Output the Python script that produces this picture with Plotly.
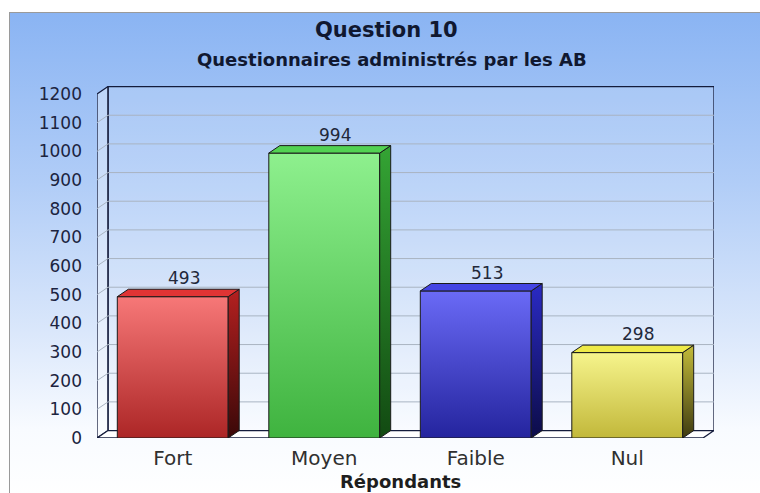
import base64
import plotly.graph_objects as go

# ---- data -------------------------------------------------------------
categories = ["Fort", "Moyen", "Faible", "Nul"]
values = [493, 994, 513, 298]
y_ticks = list(range(0, 1201, 100))

title_text = "Question 10"
subtitle_text = "Questionnaires administrés par les AB"
x_title_text = "Répondants"

# ---- bar colours (front gradient, side gradient, top face) -------------
front_top = ["#f77878", "#8ef08e", "#6a6af6", "#f6f48c"]
front_bottom = ["#ac2626", "#3fb33f", "#24249e", "#c2b83a"]
side_top = ["#b42020", "#34a434", "#2a2ac4", "#c4bc3a"]
side_bottom = ["#3a0808", "#124a12", "#0c0c48", "#3e3a10"]
top_face = ["#e03434", "#52d252", "#4444e4", "#eeea48"]

FONT = "DejaVu Sans"
EDGE = "#141c3c"
GRID = "#a9b4c2"

# ---- canvas and plot box (pixels) ---------------------------------------
W, H = 760, 493
PL, PR, PT, PB = 97, 714, 86, 438

DX = 0.0726   # depth of the 3-D box along x (category units)
DY = 26       # depth of the 3-D box along y (value units)
Y_MAX = 1228
HALF = 0.366  # half width of a bar (category units)
X0, X1 = -0.5, len(categories) - 0.5
TOP = y_ticks[-1]

fig = go.Figure()


def poly(xs, ys, **kw):
    fig.add_trace(go.Scatter(
        x=xs + xs[:1], y=ys + ys[:1], mode="lines", fill="toself",
        hoverinfo="skip", cliponaxis=False, **kw))


# walls and floor of the box
poly([X0 + DX, X1 + DX, X1 + DX, X0 + DX], [DY, DY, TOP + DY, TOP + DY],
     fillcolor="rgba(255,255,255,0.14)", line=dict(color=EDGE, width=1.3))
poly([X0, X0 + DX, X0 + DX, X0], [0, DY, TOP + DY, TOP],
     fillcolor="rgba(255,255,255,0.35)", line=dict(color=EDGE, width=1.3))

# grid lines: along the back wall and diagonally across the left wall
gx, gy = [], []
for v in y_ticks[1:-1]:
    gx += [X0, X0 + DX, X1 + DX, None]
    gy += [v, v + DY, v + DY, None]
fig.add_trace(go.Scatter(x=gx, y=gy, mode="lines", hoverinfo="skip",
                         line=dict(color=GRID, width=1), cliponaxis=False))

poly([X0, X1, X1 + DX, X0 + DX], [0, 0, DY, DY],
     fillcolor="#ffffff", line=dict(color=EDGE, width=1.3))

# 3-D bars: front face, side face, top face
for i, v in enumerate(values):
    xl, xr = i - HALF, i + HALF
    poly([xl, xr, xr, xl], [0, 0, v, v],
         line=dict(color="#1a1a1a", width=1),
         fillgradient=dict(type="vertical",
                           colorscale=[[0, front_bottom[i]], [1, front_top[i]]]))
    poly([xr, xr + DX, xr + DX, xr], [0, DY, v + DY, v],
         line=dict(color="#1a1a1a", width=1),
         fillgradient=dict(type="vertical",
                           colorscale=[[0, side_bottom[i]], [1, side_top[i]]]))
    poly([xl, xr, xr + DX, xl + DX], [v, v, v + DY, v + DY],
         fillcolor=top_face[i], line=dict(color="#1a1a1a", width=1))

# value labels above each bar
annotations = []
for i, v in enumerate(values):
    annotations.append(dict(
        x=i + DX, y=v + DY, xref="x", yref="y", text=str(v), showarrow=False,
        yanchor="middle", yshift=11, font=dict(family=FONT, size=17, color="#22283a")))

annotations += [
    dict(x=386 / W, y=1 - 30 / H, xref="paper", yref="paper", showarrow=False,
         text=f"<b>{title_text}</b>", yanchor="middle",
         font=dict(family=FONT, size=21, color="#101830")),
    dict(x=392 / W, y=1 - 60 / H, xref="paper", yref="paper", showarrow=False,
         text=f"<b>{subtitle_text}</b>", yanchor="middle",
         font=dict(family=FONT, size=18, color="#101830")),
    dict(x=(len(categories) - 1) / 2, y=1 - 481 / H, xref="x", yref="paper",
         showarrow=False, text=f"<b>{x_title_text}</b>", yanchor="middle",
         font=dict(family=FONT, size=18, color="#1e1e1e")),
]

# soft blue-to-white panel behind the chart
svg = (
    '<svg xmlns="http://www.w3.org/2000/svg" width="760" height="493" '
    'viewBox="0 0 760 493" preserveAspectRatio="none">'
    '<defs><linearGradient id="g" x1="0" y1="0" x2="0" y2="1">'
    '<stop offset="0" stop-color="#8ab4f3"/>'
    '<stop offset="0.35" stop-color="#b1cdf7"/>'
    '<stop offset="0.65" stop-color="#dae7fb"/>'
    '<stop offset="0.85" stop-color="#f8fbff"/>'
    '<stop offset="1" stop-color="#ffffff"/>'
    '</linearGradient></defs>'
    '<rect x="9.5" y="12.5" width="760" height="490" fill="url(#g)" '
    'stroke="#9a9a9a" stroke-width="1"/></svg>'
)
bg_src = "data:image/svg+xml;base64," + base64.b64encode(svg.encode()).decode()

fig.update_layout(
    width=W, height=H,
    margin=dict(l=0, r=0, t=0, b=0),
    paper_bgcolor="#ffffff",
    plot_bgcolor="rgba(0,0,0,0)",
    showlegend=False,
    annotations=annotations,
    images=[dict(source=bg_src, xref="paper", yref="paper", x=0, y=1,
                 sizex=1, sizey=1, xanchor="left", yanchor="top",
                 sizing="stretch", layer="below")],
    xaxis=dict(domain=[PL / W, PR / W], range=[X0, X1 + DX],
               tickvals=list(range(len(categories))), ticktext=categories,
               showgrid=False, zeroline=False, showline=False, ticks="",
               automargin=False, ticklabelstandoff=6, fixedrange=True,
               tickfont=dict(family=FONT, size=20, color="#303030")),
    yaxis=dict(domain=[1 - PB / H, 1 - PT / H], range=[0, Y_MAX],
               tickvals=y_ticks, showgrid=False, zeroline=False,
               showline=False, ticks="", automargin=False,
               ticklabelstandoff=14, fixedrange=True,
               tickfont=dict(family=FONT, size=17, color="#1c2440")),
)

fig.write_html("out.html")
